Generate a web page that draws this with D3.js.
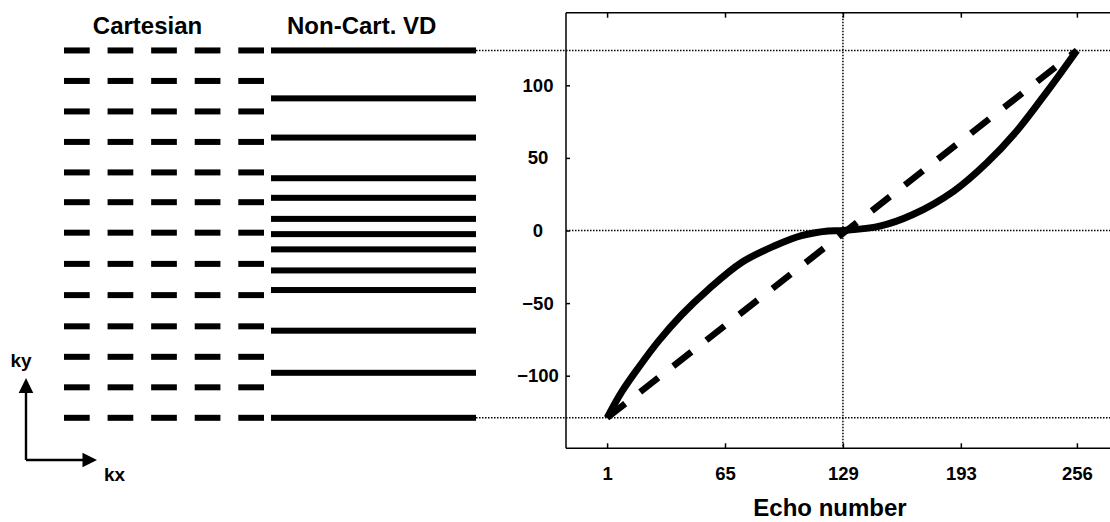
<!DOCTYPE html>
<html>
<head>
<meta charset="utf-8">
<script src="https://cdn.jsdelivr.net/npm/d3@7"></script>
<style>
    body { margin: 0; background: #fff; }
    svg { display: block; }
    text { font-family: "Liberation Sans", Arial, sans-serif; font-weight: bold; fill: #000; }
</style>
</head>
<body>
<div id="container"><svg></svg></div>
<script>
let width = 1110
let height = 522

// trajectory: ky per echo
let echo_vd = [1, 9, 18, 29, 41.5, 56, 74, 92, 106.5, 121, 129, 149, 167, 189, 207, 223, 240, 256]
let ky_vd = [-129, -111, -94.5, -76, -58, -40.5, -22, -10.5, -3.5, -0.3, 0, 3, 11, 27, 46.5, 68, 96, 124]
let echo_cart = [1, 256]
let ky_cart = [-129, 124]

// k-space lines shown on the left
let kx_cols = [1, 2, 3, 4, 5]
let ky_rows_cart = [124, 103, 82, 61, 40, 19.5, -1.5, -23, -44.5, -66, -87, -108, -129]
let ky_rows_vd = [124, 91, 64, 36, 22.5, 8, -2.5, -13, -27.5, -41, -69, -98, -129]

let x_ticks = [1, 65, 129, 193, 256]
let y_ticks = [100, 50, 0, -50, -100]
let y_min = -150
let y_max = 150

function draw_main() {
    let svg = d3.select('#container').select('svg')
        .attr('width', width)
        .attr('height', height)

    let plot_left = 566
    let x = d3.scaleLinear().domain([1, 256]).range([607.1, 1076.9])
    let y = d3.scaleLinear().domain([y_min, y_max]).range([448.3, 12.7])

    // dotted guides
    let dotted = svg.append('g')
        .attr('stroke', '#000')
        .attr('stroke-width', 1.5)
        .attr('stroke-dasharray', '1.5,1.5')
    dotted.selectAll('line.h')
        .data([ky_cart[1], ky_cart[0]])
        .enter().append('line')
        .attr('x1', 476).attr('x2', width)
        .attr('y1', d => y(d)).attr('y2', d => y(d))
    dotted.append('line')
        .attr('x1', plot_left).attr('x2', width)
        .attr('y1', y(0)).attr('y2', y(0))
    dotted.append('line')
        .attr('x1', x(129)).attr('x2', x(129))
        .attr('y1', y(y_max)).attr('y2', y(y_min))

    // frame
    let frame = svg.append('g').attr('stroke', '#000').attr('stroke-width', 1.5)
    frame.append('line').attr('x1', plot_left).attr('x2', width).attr('y1', y(y_max)).attr('y2', y(y_max))
    frame.append('line').attr('x1', plot_left).attr('x2', width).attr('y1', y(y_min)).attr('y2', y(y_min))
    frame.append('line').attr('x1', plot_left).attr('x2', plot_left).attr('y1', y(y_max)).attr('y2', y(y_min))

    // x axis (bottom, ticks inward)
    let axis_x = d3.axisBottom(x).tickValues(x_ticks).tickSize(-5).tickPadding(18.6)
    let gx = svg.append('g')
        .attr('transform', `translate(0, ${y(y_min)})`)
        .call(axis_x)
    gx.select('.domain').remove()
    gx.selectAll('.tick line').attr('stroke-width', 1.5)
    gx.selectAll('text').attr('font-size', '18.5px')

    let axis_top = d3.axisTop(x).tickValues(x_ticks).tickSize(-5).tickFormat('')
    let gt = svg.append('g')
        .attr('transform', `translate(0, ${y(y_max)})`)
        .call(axis_top)
    gt.select('.domain').remove()
    gt.selectAll('.tick line').attr('stroke-width', 1.5)

    // y axis
    let axis_y = d3.axisLeft(y).tickValues(y_ticks).tickSize(-4).tickPadding(0)
    let gy = svg.append('g')
        .attr('transform', `translate(${plot_left}, 0)`)
        .call(axis_y)
    gy.select('.domain').remove()
    gy.selectAll('.tick line').attr('stroke-width', 1.5)
    gy.selectAll('text')
        .attr('x', -28)
        .attr('text-anchor', 'middle')
        .attr('font-size', '18.5px')

    svg.append('text')
        .attr('x', 830)
        .attr('y', 516)
        .attr('text-anchor', 'middle')
        .attr('font-size', '24px')
        .text('Echo number')

    // curves
    let line = d3.line()
        .x(d => x(d[0]))
        .y(d => y(d[1]))
        .curve(d3.curveCatmullRom.alpha(0.5))

    svg.append('path')
        .datum(d3.zip(echo_vd, ky_vd))
        .attr('d', line)
        .attr('fill', 'none')
        .attr('stroke', '#000')
        .attr('stroke-width', 7)

    svg.append('path')
        .datum(d3.zip(echo_cart, ky_cart))
        .attr('d', line)
        .attr('fill', 'none')
        .attr('stroke', '#000')
        .attr('stroke-width', 6.5)
        .attr('stroke-dasharray', '23,19')

    // left panel: sampled lines
    let col = d3.scaleBand().domain(kx_cols).range([64, 264]).paddingInner(0.41)
    let cart = svg.append('g')
    ky_rows_cart.forEach(k => {
        cart.selectAll(null)
            .data(kx_cols)
            .enter().append('rect')
            .attr('x', d => col(d))
            .attr('y', y(k) - 3)
            .attr('width', col.bandwidth())
            .attr('height', 6)
            .attr('fill', '#000')
    })

    svg.append('g')
        .selectAll('rect')
        .data(ky_rows_vd)
        .enter().append('rect')
        .attr('x', 271)
        .attr('y', d => y(d) - 3)
        .attr('width', 476 - 271)
        .attr('height', 6)
        .attr('fill', '#000')

    svg.append('text')
        .attr('x', 147.5).attr('y', 33.5)
        .attr('text-anchor', 'middle')
        .attr('font-size', '24px')
        .text('Cartesian')
    svg.append('text')
        .attr('x', 361.7).attr('y', 33.5)
        .attr('text-anchor', 'middle')
        .attr('font-size', '24px')
        .text('Non-Cart. VD')

    // kx / ky direction arrows
    let arrows = svg.append('g')
    arrows.append('path')
        .attr('d', 'M26,460 V392 M26,460 H83')
        .attr('fill', 'none')
        .attr('stroke', '#000')
        .attr('stroke-width', 2.4)
    arrows.append('path')
        .attr('d', 'M26,378 L33.3,393 L18.7,393 Z M97,460 L82.5,452.7 L82.5,467.3 Z')
        .attr('fill', '#000')
    svg.append('text')
        .attr('x', 21).attr('y', 367)
        .attr('text-anchor', 'middle')
        .attr('font-size', '19px')
        .text('ky')
    svg.append('text')
        .attr('x', 114.5).attr('y', 480.5)
        .attr('text-anchor', 'middle')
        .attr('font-size', '19px')
        .text('kx')
}

draw_main()
</script>
</body>
</html>
